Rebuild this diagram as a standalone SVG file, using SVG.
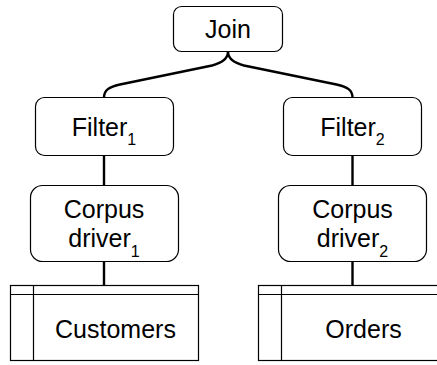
<svg xmlns="http://www.w3.org/2000/svg" width="437" height="365" viewBox="0 0 437 365">
<style>
.node{fill:#fff;stroke:#000;stroke-width:1.2}
.tbl{fill:#fff;stroke:#000;stroke-width:1.2}
.t{font-family:"Liberation Sans",Arial,sans-serif;font-size:25px;fill:#000;text-anchor:middle}
.sub{font-size:16px}
.edge{fill:none;stroke:#000;stroke-width:2.4}
</style>
<g id="edges">
<path class="edge" d="M228,51.5 C228,60 220,63 212,65.5 L120,84.5 C109,87 104,90 104,97.5"/>
<path class="edge" d="M228,51.5 C228,60 236,63 244,65.5 L336.5,84.5 C347.5,87 352.5,90 352.5,97.5"/>
<path class="edge" d="M104,155.5 V185.5 M104,261.5 V285.5"/>
<path class="edge" d="M352.5,155.5 V185.5 M352.5,261.5 V285.5"/>
</g>
<g id="join">
<rect class="node" x="173.5" y="6.5" width="109" height="45" rx="8"/>
<text class="t" x="228" y="37.5">Join</text>
</g>
<g id="filter1">
<rect class="node" x="35.5" y="97.5" width="138" height="58" rx="9"/>
<text class="t" x="104" y="136">Filter<tspan class="sub" dy="9">1</tspan></text>
</g>
<g id="filter2">
<rect class="node" x="283.5" y="97.5" width="138" height="58" rx="9"/>
<text class="t" x="352.5" y="136">Filter<tspan class="sub" dy="9">2</tspan></text>
</g>
<g id="corpus1">
<rect class="node" x="30.5" y="185.5" width="148" height="76" rx="12"/>
<text class="t" x="104" y="218">Corpus</text>
<text class="t" x="104" y="247">driver<tspan class="sub" dy="10">1</tspan></text>
</g>
<g id="corpus2">
<rect class="node" x="278.5" y="185.5" width="148" height="76" rx="12"/>
<text class="t" x="352.5" y="218">Corpus</text>
<text class="t" x="352.5" y="247">driver<tspan class="sub" dy="10">2</tspan></text>
</g>
<g id="customers">
<rect class="tbl" x="10.5" y="285.5" width="188" height="75"/>
<path class="tbl" d="M10.5,294.5 H198.5 M33.5,285.5 V360.5"/>
<text class="t" x="115.5" y="338">Customers</text>
</g>
<g id="orders">
<rect class="tbl" x="258.5" y="285.5" width="188" height="75"/>
<path class="tbl" d="M258.5,294.5 H446.5 M281.5,285.5 V360.5"/>
<text class="t" x="363.5" y="338">Orders</text>
</g>
</svg>
